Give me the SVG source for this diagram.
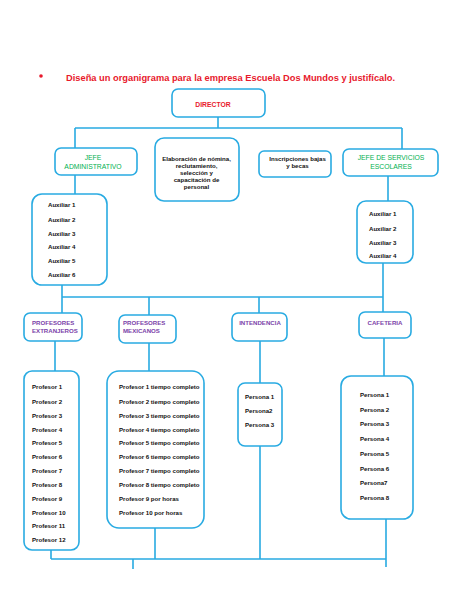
<svg xmlns="http://www.w3.org/2000/svg" width="474" height="613" viewBox="0 0 474 613">
<style>
.box{fill:#fff;stroke:#29abe2;stroke-width:1.6}
.ln{fill:none;stroke:#29abe2;stroke-width:1.6}
text{font-family:"Liberation Sans",Arial,sans-serif}
.t{font-size:6.1px;font-weight:bold;fill:#111}
.red{fill:#e8192c;font-weight:bold}
.grn{fill:#00b050;font-size:6.8px}
.pur{fill:#7b3fa8;font-size:6.1px;font-weight:bold}
.m{text-anchor:middle}
</style>
<rect width="474" height="613" fill="#fff"/>
<g id="title">
<circle cx="41" cy="76" r="1.8" fill="#e8192c"/>
<text class="red" x="66" y="80.5" font-size="9.3">Diseña un organigrama para la empresa Escuela Dos Mundos y justifícalo.</text>
</g>
<g id="connectors">
<path class="ln" d="M218 117V128M75 128H402M75 128V148M402 128V149"/>
<path class="ln" d="M75 175V194M388 176V201"/>
<path class="ln" d="M62 285V297M383 263V297M62 297H383M62 297V313M149 297V315M259 297V313M383 297V312"/>
<path class="ln" d="M55 341V371M149 343V371M260 341V383M384 338V376"/>
<path class="ln" d="M51 550V559M155 528V559M260 446V559M386 519V567M51 559H386M133 559V569"/>
</g>
<g id="director"><rect class="box" x="172" y="89" width="93" height="28" rx="6"/><text class="red m" x="213" y="107" font-size="6.8">DIRECTOR</text></g>
<g id="jefe-admin"><rect class="box" x="55" y="148" width="82" height="27" rx="6"/><text class="grn m" x="93" y="160">JEFE</text><text class="grn m" x="93" y="169">ADMINISTRATIVO</text></g>
<g id="elaboracion"><rect class="box" x="155" y="138" width="84" height="63" rx="9"/>
<text class="t m" x="196.5" y="160.5">Elaboración de nómina,</text><text class="t m" x="196.5" y="167.5">reclutamiento,</text><text class="t m" x="196.5" y="174.5">selección y</text><text class="t m" x="196.5" y="181.5">capacitación  de</text><text class="t m" x="196.5" y="189">personal</text></g>
<g id="inscripciones"><rect class="box" x="259" y="151" width="72" height="26" rx="5"/><text class="t m" x="297.5" y="161">Inscripciones bajas</text><text class="t m" x="297.5" y="168">y becas</text></g>
<g id="jefe-servicios"><rect class="box" x="343" y="149" width="95" height="27" rx="6"/><text class="grn m" x="391" y="160">JEFE DE SERVICIOS</text><text class="grn m" x="391" y="169">ESCOLARES</text></g>
<g id="auxiliares-admin"><rect class="box" x="32" y="194" width="75" height="91" rx="10"/>
<text class="t" x="48" y="207">Auxiliar 1</text><text class="t" x="48" y="222">Auxiliar 2</text><text class="t" x="48" y="236">Auxiliar 3</text><text class="t" x="48" y="249">Auxiliar 4</text><text class="t" x="48" y="263">Auxiliar 5</text><text class="t" x="48" y="277">Auxiliar 6</text></g>
<g id="auxiliares-servicios"><rect class="box" x="357" y="201" width="56" height="62" rx="9"/>
<text class="t" x="369" y="216">Auxiliar 1</text><text class="t" x="369" y="231">Auxiliar 2</text><text class="t" x="369" y="245">Auxiliar 3</text><text class="t" x="369" y="258">Auxiliar 4</text></g>
<g id="prof-extranjeros"><rect class="box" x="24" y="313" width="58" height="28" rx="6"/><text class="pur" x="32" y="325">PROFESORES</text><text class="pur" x="32" y="332.5">EXTRANJEROS</text></g>
<g id="prof-mexicanos"><rect class="box" x="119" y="315" width="57" height="28" rx="6"/><text class="pur" x="123" y="325">PROFESORES</text><text class="pur" x="123" y="332.5">MEXICANOS</text></g>
<g id="intendencia"><rect class="box" x="232" y="313" width="55" height="28" rx="6"/><text class="pur m" x="260" y="325">INTENDENCIA</text></g>
<g id="cafeteria"><rect class="box" x="359" y="312" width="52" height="26" rx="6"/><text class="pur m" x="385" y="325">CAFETERIA</text></g>
<g id="profesores-extranjeros-lista"><rect class="box" x="24" y="371" width="55" height="179" rx="8"/>
<text class="t" x="32" y="389">Profesor 1</text><text class="t" x="32" y="404">Profesor 2</text><text class="t" x="32" y="418">Profesor 3</text><text class="t" x="32" y="432">Profesor 4</text><text class="t" x="32" y="445">Profesor 5</text><text class="t" x="32" y="459">Profesor 6</text><text class="t" x="32" y="473">Profesor 7</text><text class="t" x="32" y="487">Profesor 8</text><text class="t" x="32" y="501">Profesor 9</text><text class="t" x="32" y="515">Profesor 10</text><text class="t" x="32" y="528">Profesor 11</text><text class="t" x="32" y="542">Profesor 12</text></g>
<g id="profesores-mexicanos-lista"><rect class="box" x="107" y="371" width="97" height="157" rx="12"/>
<text class="t" x="119" y="389">Profesor 1 tiempo completo</text><text class="t" x="119" y="404">Profesor 2 tiempo completo</text><text class="t" x="119" y="418">Profesor 3 tiempo completo</text><text class="t" x="119" y="432">Profesor 4 tiempo completo</text><text class="t" x="119" y="445">Profesor 5 tiempo completo</text><text class="t" x="119" y="459">Profesor 6 tiempo completo</text><text class="t" x="119" y="473">Profesor 7 tiempo completo</text><text class="t" x="119" y="487">Profesor 8 tiempo completo</text><text class="t" x="119" y="501">Profesor 9 por horas</text><text class="t" x="119" y="515">Profesor 10 por horas</text></g>
<g id="intendencia-lista"><rect class="box" x="238" y="383" width="44" height="63" rx="7"/>
<text class="t" x="245" y="399">Persona 1</text><text class="t" x="245" y="413">Persona2</text><text class="t" x="245" y="427">Persona 3</text></g>
<g id="cafeteria-lista"><rect class="box" x="341" y="376" width="72" height="143" rx="10"/>
<g class="t" font-size="6.9px"><text x="360" y="396.5">Persona 1</text><text x="360" y="411.5">Persona 2</text><text x="360" y="425.5">Persona 3</text><text x="360" y="440.5">Persona 4</text><text x="360" y="455.5">Persona 5</text><text x="360" y="470.5">Persona 6</text><text x="360" y="484.5">Persona7</text><text x="360" y="499.5">Persona 8</text></g></g>
</svg>
